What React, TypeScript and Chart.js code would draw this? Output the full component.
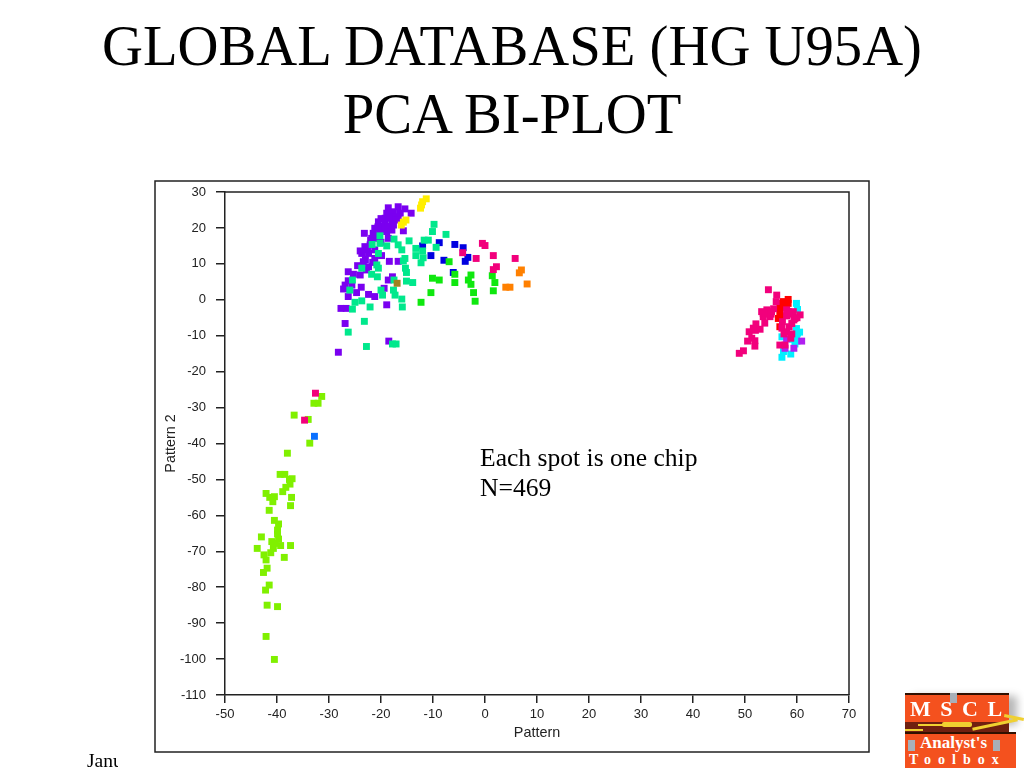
import React, { useEffect, useRef } from "react";
import { Chart, registerables } from "chart.js";

Chart.register(...registerables);

type P = [number, number];

const xTicks = [-50, -40, -30, -20, -10, 0, 10, 20, 30, 40, 50, 60, 70];
const yTicks = [30, 20, 10, 0, -10, -20, -30, -40, -50, -60, -70, -80, -90, -100, -110];

const purple: P[] = [[-18.6,25.6],[-16.7,25.9],[-15.4,25.3],[-14.2,24.1],[-18.9,24.1],[-17.6,24.5],[-16.3,24.1],[-19.2,22.7],[-17.9,23.1],[-16.7,23.1],[-20.5,21.7],[-19.2,21.7],[-17.9,21.7],[-17,22.2],[-21.2,19.9],[-19.9,20.4],[-18.6,20.4],[-17.6,20.8],[-21.5,18.5],[-20.2,19],[-18.9,19],[-17.9,19.4],[-23.2,18.5],[-15.7,19.2],[-21.8,17.1],[-20.5,17.1],[-18.6,17.1],[-23.1,14.8],[-22.1,15.3],[-23.7,12.9],[-22.4,12.9],[-21.2,13.9],[-19.9,12.3],[-21.2,11.5],[-23.4,10.6],[-18.4,10.7],[-16.7,10.7],[-22.4,9.2],[-26.3,7.8],[-25.3,7.1],[-24,6.9],[-22.8,8.3],[-17.8,6.4],[-18.6,5.5],[-26.3,5.3],[-26.9,4.1],[-25.6,4.1],[-27.2,3],[-23.8,3.5],[-24.7,2],[-19.4,3.2],[-22.4,1.5],[-21.2,0.9],[-26.3,0.9],[-18.9,-1.4],[-27.7,-2.4],[-26.7,-2.4],[-26.9,-6.6],[-18.5,-11.5],[-28.2,-14.6],[-20,22.6],[-18.4,22.8],[-19.5,19.5],[-20.6,20.3],[-21,18],[-22,16.5],[-20,16],[-22.6,14],[-24,13.6],[-23,11.2],[-21.6,10.4],[-24.5,9.5]];
const teal: P[] = [[-9.8,21],[-10.1,19],[-7.5,18.2],[-20.2,17.8],[-17.5,16.9],[-14.6,16.4],[-11.7,16.6],[-10.9,16.6],[-16.7,15.3],[-21.7,15.4],[-20.2,15.7],[-18.9,15],[-16,13.9],[-13.3,14.3],[-12,13.6],[-9.4,14.6],[-20.5,12.9],[-13.3,12.3],[-15.4,11.5],[-11.9,11.7],[-12.3,10.3],[-15.7,10.8],[-20.8,9.7],[-23.7,8.8],[-20.5,8.8],[-15.3,8.8],[-15.1,7.6],[-21.8,7.1],[-20.7,6.4],[-25.5,5.5],[-17.5,5.5],[-15.1,5.2],[-13.9,4.8],[-26,2.7],[-20,2.7],[-17.6,2.7],[-19.7,1.3],[-17.3,1.3],[-16,0.2],[-25,-0.7],[-23.7,-0.3],[-25.5,-2.6],[-22.1,-2],[-15.9,-2],[-23.2,-6],[-26.3,-9],[-22.8,-13],[-17.8,-12.3],[-17.1,-12.3]];
const green: P[] = [[-6.9,10.6],[-5.8,7.1],[-10.1,6],[-8.8,5.5],[-2.7,6.9],[-3.2,5.5],[-2.7,4.3],[-5.8,4.8],[1.4,6.7],[1.9,4.8],[-10.4,2],[-2.2,2],[1.6,2.5],[-12.3,-0.7],[-1.9,-0.4]];
const olive: P[] = [[-16.9,4.6]];
const blue: P[] = [[-12,15],[-8.8,15.9],[-5.8,15.4],[-4.2,14.5],[-10.4,12.3],[-7.9,11],[-3.3,11.8],[-3.8,10.7],[-6.1,7.6]];
const rose: P[] = [[-0.5,15.7],[0,15.1],[-4.3,13.1],[-1.7,11.5],[1.6,12.3],[5.8,11.5],[2.2,9.2],[1.6,8.4],[-32.6,-26],[-34.7,-33.5],[54.5,2.8],[56.1,1.3],[56,-0.5],[53.2,-3.3],[54.2,-2.8],[55.1,-3.3],[53.5,-4.7],[54.8,-4.7],[53.8,-6.5],[52.1,-6.7],[51.6,-7.9],[52.9,-8.2],[50.8,-8.9],[51.3,-10.7],[50.5,-11.5],[51.9,-11.4],[51.9,-12.9],[49.7,-14.2],[48.9,-14.9],[57.2,-6.1],[57.1,-7.9],[58,-8.9],[58.8,-10.7],[56.7,-12.6],[57.7,-12.6],[58.3,-3.3],[59.3,-3.3],[60.6,-4.2],[59.6,-5.2],[59,-6.6],[59.4,-5.6],[53.5,-3.8],[54,-4],[55,-4],[55.5,-2.5],[58,-4.5],[59,-4],[60,-5],[58.5,-7.5],[57.5,-9.5],[59,-9.5],[52,-8.5],[58,-2.8]];
const orange: P[] = [[7,8.3],[6.6,7.5],[4,3.5],[4.8,3.5],[8.1,4.4]];
const yellow: P[] = [[-11.3,28.1],[-12,27.3],[-12.2,26.4],[-12.4,25.5],[-15.2,22.2],[-15.7,21.6],[-16.1,20.8]];
const red: P[] = [[58.3,0.1],[57.4,-0.5],[58.3,-1],[56.7,-1.9],[57.7,-1.9],[56.7,-3.3],[56.4,-5.2],[56.7,-7.5],[57,-1],[58,-2.2],[57,-4.5]];
const cyan: P[] = [[59.9,-1],[60.1,-2.7],[59.9,-8],[60.1,-9.3],[59.9,-10.7],[59.6,-12.3],[57.1,-10.3],[57.4,-14.4],[57.1,-16],[58.8,-15.1],[60.5,-9],[60,-11.5],[59.2,-11]];
const violet: P[] = [[60.9,-11.5],[59.4,-13.5],[57.7,-13.5],[58,-10.9]];
const lime: P[] = [[-31.4,-26.9],[-32.9,-28.8],[-32.1,-28.8],[-36.7,-32.1],[-34,-33.3],[-33.7,-39.9],[-38,-42.7],[-39.4,-48.6],[-38.5,-48.6],[-37.1,-49.8],[-37.6,-50],[-37.5,-51.3],[-38.3,-52.2],[-38.9,-53.4],[-42.1,-53.9],[-41.4,-55],[-40.5,-54.8],[-40.8,-56.2],[-37.2,-55],[-37.4,-57.3],[-41.5,-58.6],[-40.5,-61.4],[-39.7,-62.4],[-39.9,-64.1],[-39.9,-65.2],[-39.7,-66.6],[-43,-66],[-41,-67.3],[-40.4,-67.8],[-39.3,-68.4],[-37.4,-68.4],[-43.8,-69.2],[-40.7,-69.2],[-41.2,-70.4],[-42.5,-71],[-42.1,-72.4],[-38.6,-71.7],[-41.9,-74.7],[-42.6,-75.9],[-41.5,-79.4],[-42.2,-80.8],[-41.9,-85],[-39.9,-85.4],[-42.1,-93.7],[-40.5,-100.1]];
const azure: P[] = [[-32.8,-38]];

// Chart.js paints the first dataset on top, so the list runs from top to bottom.
const seriesList: { name: string; points: P[]; color: string }[] = [
  { name: "azure", points: azure, color: "#0a70ff" },
  { name: "rose", points: rose, color: "#f2007c" },
  { name: "red", points: red, color: "#ff0000" },
  { name: "violet", points: violet, color: "#b020f0" },
  { name: "lime", points: lime, color: "#80f000" },
  { name: "orange", points: orange, color: "#ff8000" },
  { name: "yellow", points: yellow, color: "#ffee00" },
  { name: "olive", points: olive, color: "#a08020" },
  { name: "teal", points: teal, color: "#00e88c" },
  { name: "green", points: green, color: "#0fe80f" },
  { name: "blue", points: blue, color: "#0000e0" },
  { name: "cyan", points: cyan, color: "#00f0ff" },
  { name: "purple", points: purple, color: "#7a00f0" },
];

const INK = "#222222";
const sans = "'Liberation Sans', Arial, sans-serif";
const serif = "'Liberation Serif', 'Times New Roman', serif";

const abs = (s: React.CSSProperties): React.CSSProperties => ({ position: "absolute", ...s });

const framePlugin = {
  id: "plotFrame",
  beforeDraw(chart: any) {
    const { ctx, chartArea: a } = chart;
    ctx.save();
    ctx.strokeStyle = INK;
    ctx.lineWidth = 1.5;
    ctx.strokeRect(155, 181, 714, 571);
    ctx.beginPath();
    ctx.moveTo(a.left, a.top);
    ctx.lineTo(a.right, a.top);
    ctx.lineTo(a.right, a.bottom);
    ctx.stroke();
    ctx.restore();
  },
};

const Latch = ({ left, top, w, h }: { left: number; top: number; w: number; h: number }) => (
  <div style={abs({ left, top, width: w, height: h, background: "#a8b0b8" })} />
);

export default function App() {
  const ref = useRef<HTMLCanvasElement>(null);
  useEffect(() => {
    document.body.style.margin = "0";
    const chart = new Chart(ref.current!, {
      type: "scatter",
      data: {
        datasets: seriesList.map((s) => ({
          label: s.name,
          data: s.points.map(([x, y]) => ({ x, y })),
          backgroundColor: s.color,
          borderWidth: 0,
          pointStyle: "rect",
          pointRadius: 4.9,
          clip: false,
        })),
      } as any,
      options: {
        animation: false,
        responsive: false,
        devicePixelRatio: 1,
        layout: { padding: { left: 155, right: 175, top: 192, bottom: 16 } },
        plugins: { legend: { display: false }, title: { display: false }, tooltip: { enabled: false } },
        scales: {
          x: {
            type: "linear",
            min: -50,
            max: 70,
            afterBuildTicks: (s: any) => { s.ticks = xTicks.map((value) => ({ value })); },
            afterFit: (s: any) => { s.height = 57; },
            grid: { drawOnChartArea: false, drawTicks: true, tickLength: 8, color: INK, lineWidth: 1.5 },
            border: { color: INK, width: 1.5 },
            ticks: { color: INK, padding: 4, maxRotation: 0, autoSkip: false, font: { family: sans, size: 13 } },
            title: { display: true, text: "Pattern", color: INK, padding: { top: 3, bottom: 10.5 }, font: { family: sans, size: 14.4 } },
          },
          y: {
            type: "linear",
            min: -110,
            max: 30,
            afterBuildTicks: (s: any) => { s.ticks = yTicks.map((value) => ({ value })); },
            afterFit: (s: any) => { s.width = 70; },
            grid: { drawOnChartArea: false, drawTicks: true, tickLength: 9, color: INK, lineWidth: 1.5 },
            border: { color: INK, width: 1.5 },
            ticks: { color: INK, padding: 10, autoSkip: false, font: { family: sans, size: 13 } },
            title: { display: true, text: "Pattern 2", color: INK, padding: { top: 7.5, bottom: 0 }, font: { family: sans, size: 14.4 } },
          },
        },
      } as any,
      plugins: [framePlugin],
    });
    return () => chart.destroy();
  }, []);

  return (
    <div style={{ position: "relative", width: 1024, height: 768, overflow: "hidden", background: "#fff" }}>
      <canvas ref={ref} width={1024} height={768} style={{ position: "absolute", left: 0, top: 0, display: "block" }} />
      <div style={abs({ left: 0, width: 1024, top: 12, textAlign: "center", fontFamily: serif, fontSize: 56.7, lineHeight: "68px", color: "#000" })}>
        GLOBAL DATABASE (HG U95A)<br />PCA BI-PLOT
      </div>
      <div style={abs({ left: 480, top: 443, fontFamily: serif, fontSize: 25.6, lineHeight: "30px", color: "#000", whiteSpace: "nowrap" })}>
        Each spot is one chip<br />N=469
      </div>
      <div style={abs({ left: 87, top: 750, width: 31, overflow: "hidden", fontFamily: serif, fontSize: 19.5, lineHeight: "22px", whiteSpace: "nowrap", color: "#000" })}>
        January
      </div>
      <div style={abs({ left: 905, top: 693, width: 104, height: 29, background: "#f4511e", borderTop: "2px solid #301000", boxSizing: "border-box", boxShadow: "8px 3px 8px #b8b8b8", color: "#fff", fontFamily: serif, fontWeight: "bold", fontSize: 22, lineHeight: "28px", textAlign: "left", letterSpacing: 9.5, paddingLeft: 5, whiteSpace: "nowrap" })}>
        MSCL
      </div>
      <Latch left={950} top={693} w={7} h={10} />
      <div style={abs({ left: 905, top: 722, width: 104, height: 10, background: "#702010" })} />
      <div style={abs({ left: 918, top: 724, width: 30, height: 2, background: "#f0d030" })} />
      <div style={abs({ left: 942, top: 722, width: 30, height: 5, background: "#f0d030", borderRadius: 2 })} />
      <div style={abs({ left: 905, top: 729, width: 18, height: 2, background: "#f0d030" })} />
      <div style={abs({ left: 972, top: 723, width: 46, height: 3, background: "#f0d030", transform: "rotate(-12deg)" })} />
      <div style={abs({ left: 1004, top: 716, width: 20, height: 3, background: "#f0d030", transform: "rotate(12deg)" })} />
      <div style={abs({ left: 905, top: 732, width: 111, height: 36, background: "#f4511e", borderTop: "2px solid #301000", boxSizing: "border-box", color: "#fff", fontFamily: serif, fontWeight: "bold", textAlign: "left", whiteSpace: "nowrap" })}>
        <div style={{ fontSize: 17, lineHeight: "18px", paddingLeft: 15 }}>Analyst's</div>
        <div style={{ fontSize: 14, lineHeight: "15px", letterSpacing: 7, paddingLeft: 4 }}>Toolbox</div>
      </div>
      <Latch left={908} top={740} w={7} h={11} />
      <Latch left={993} top={740} w={7} h={11} />
    </div>
  );
}
